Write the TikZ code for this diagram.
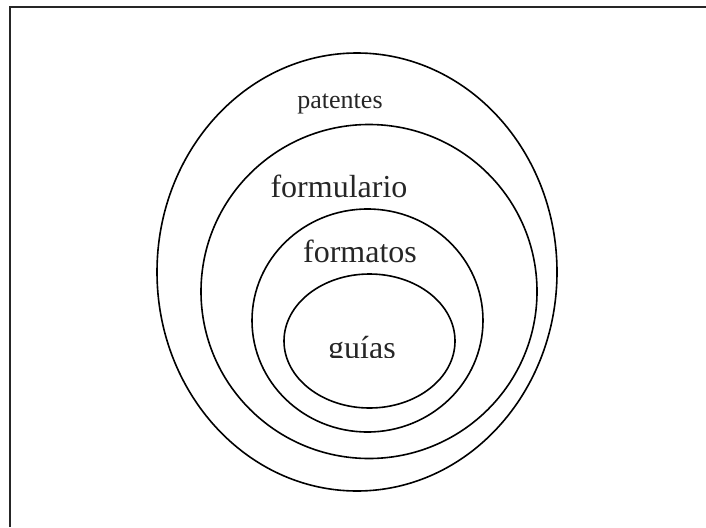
\documentclass[tikz,border=0pt]{standalone}
\usepackage{fontspec}
\setmainfont{Liberation Serif}
\begin{document}
\begin{tikzpicture}[x=1pt,y=-1pt,
  ring/.style={line width=1.6pt, draw=black},
  frame/.style={line width=1.8pt, draw=black!85},
  lbl/.style={anchor=base, inner sep=0pt, text=black!85}]
\useasboundingbox (0,0) rectangle (706,527);
\draw[frame] (10,527) -- (10,7) -- (706,7);
% circles
\draw[ring] (357,272) ellipse [x radius=200pt, y radius=219pt];
\draw[ring] (369,291.5) ellipse [x radius=168pt, y radius=167pt];
\draw[ring] (367.5,320.5) ellipse [x radius=115.5pt, y radius=111.5pt];
\draw[ring] (369.5,341) ellipse [x radius=85.5pt, y radius=67pt];
% labels
\node[lbl, font=\fontsize{26}{30}\selectfont] (patentes) at (340,108) {patentes};
\node[lbl, font=\fontsize{32}{36}\selectfont] (formulario) at (339,197) {formulario};
\node[lbl, font=\fontsize{32}{36}\selectfont] (formatos) at (360,262) {formatos};
\begin{scope}
\clip (0,0) rectangle (706,357);
\node[lbl, font=\fontsize{32}{36}\selectfont] (guias) at (362,358) {guías};
\end{scope}
\end{tikzpicture}
\end{document}
